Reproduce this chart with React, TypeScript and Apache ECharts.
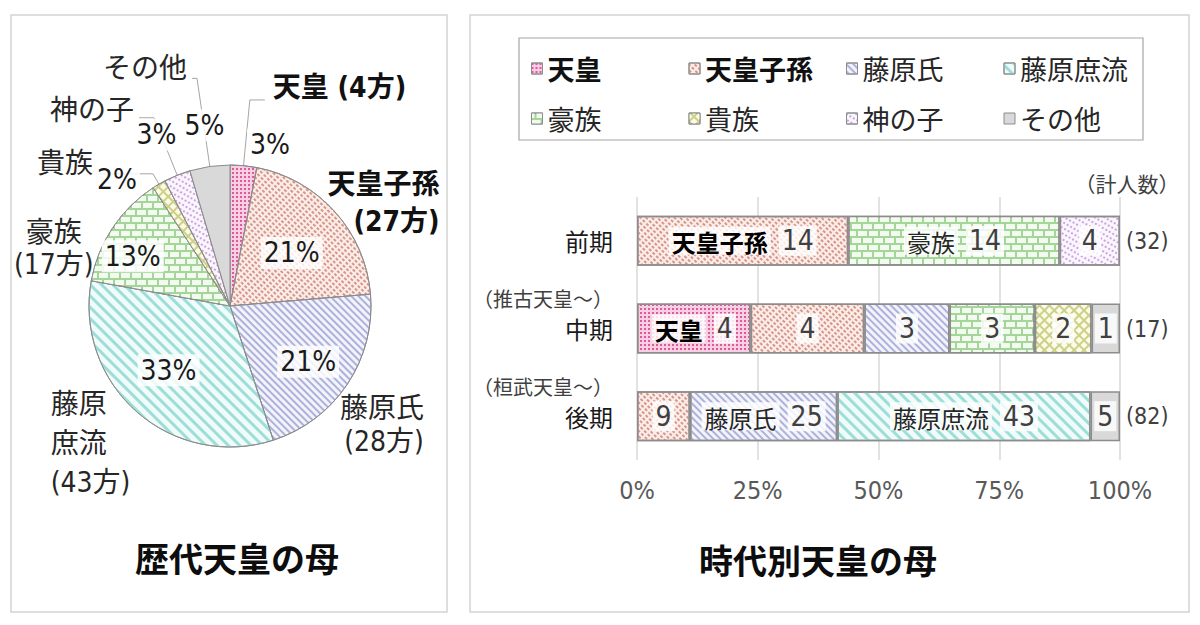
import { useEffect, useRef } from "react";
import * as echarts from "echarts";

// 時代区分
const periods = ["前期", "中期", "後期"];
const periodNotes = ["", "（推古天皇～）", "（桓武天皇～）"];

// 母の出自
const mothers = ["天皇", "天皇子孫", "藤原氏", "藤原庶流", "豪族", "貴族", "神の子", "その他"];

// 人数: [前期, 中期, 後期]
const tenno = [0, 4, 0];
const tennoShison = [14, 4, 9];
const fujiwara = [0, 3, 25];
const fujiwaraShoryu = [0, 0, 43];
const gozoku = [14, 3, 0];
const kizoku = [0, 2, 0];
const kaminoko = [4, 0, 0];
const sonota = [0, 1, 5];

const counts = [tenno, tennoShison, fujiwara, fujiwaraShoryu, gozoku, kizoku, kaminoko, sonota];

const xTicks = [0, 25, 50, 75, 100];

// bar segments that also show the category name
const namedSegments = ["前期:天皇子孫", "前期:豪族", "中期:天皇", "後期:藤原氏", "後期:藤原庶流"];
const boldNames = ["天皇", "天皇子孫"];

const JP = "'Noto Sans CJK JP', sans-serif";
const NUM = "'Liberation Sans Narrow', 'DejaVu Sans Condensed', 'Roboto Condensed', 'Noto Sans CJK JP', sans-serif";
const BORDER = "#8c8c8c";

const fills: Array<{ color: string; decal?: any }> = [
  { color: "#f7cfe2", decal: { color: "#de5a9f", dashArrayX: [2, 1.5], dashArrayY: [2, 1.5] } },
  { color: "#fbeee9", decal: { color: "#d8958a", dashArrayX: [3, 2], dashArrayY: [1.5, 1.5], rotation: Math.PI / 4 } },
  { color: "#f3f3fa", decal: { color: "#adb1dc", dashArrayX: [1, 0], dashArrayY: [1.5, 2.5], rotation: Math.PI / 4 } },
  { color: "#f1fbfa", decal: { color: "#9cded8", dashArrayX: [1, 0], dashArrayY: [3, 5], rotation: Math.PI / 4 } },
  { color: "#a3d698", decal: { color: "#f3faf0", dashArrayX: [[9, 2], [3, 2, 6, 0]], dashArrayY: [5, 1.5] } },
  { color: "#cdd088", decal: { color: "#fbfbe6", dashArrayX: [5, 1.2], dashArrayY: [5, 1.2], rotation: Math.PI / 4 } },
  { color: "#fbf5fd", decal: { color: "#c9a5e0", dashArrayX: [2, 2], dashArrayY: [1.2, 2.5], rotation: Math.PI / 6 } },
  { color: "#d9d9d9" },
];

// pie percentage label nudges (from the "inside" spot)
const pctShift = [
  [33, -88], [7, -4], [17, 15], [-13, 9], [-36, -9], [-76, -63], [-46, -103], [-15, -108],
];

// pie name label placement
const namePlace = [
  { len: 66, len2: 15, dist: 8, pad: [0, 0, 24, 0], line: true },
  { len: 13, len2: 0, dist: -17, pad: 0, line: false },
  { len: 74, len2: 0, dist: -69, pad: 0, line: false },
  { len: 42, len2: 0, dist: -21, pad: 0, line: false },
  { len: 0, len2: 0, dist: 19, pad: [42, 0, 0, 0], line: false },
  { len: 12, len2: 55, dist: 5, pad: [0, 0, 20, 0], line: true },
  { len: 62, len2: 15, dist: 5, pad: [0, 0, 14, 0], line: true },
  { len: 89, len2: 5, dist: 5, pad: [0, 0, 20, 0], line: true },
];

function buildOption() {
  const periodTotals = periods.map((_, p) => counts.reduce((s, arr) => s + arr[p], 0));
  const motherTotals = counts.map((arr) => arr.reduce((s, v) => s + v, 0));
  const grandTotal = motherTotals.reduce((s, v) => s + v, 0);

  const barLabel = (m: number, p: number) => {
    const c = counts[m][p];
    if (!c) return "";
    const name = mothers[m];
    if (namedSegments.includes(`${periods[p]}:${name}`)) {
      const key = boldNames.includes(name) ? "nb" : "n";
      return `{${key}|${name}}{g| }{v|${c}}`;
    }
    return `{v|${c}}`;
  };

  const nameLabel = (m: number) => {
    const name = mothers[m];
    const c = motherTotals[m];
    switch (m) {
      case 0:
        return `{b|${name} (${c}方)}`;
      case 1:
        return `{br|${name}}\n{br|(${c}方)}`;
      case 2:
        return `{rr|${name}}\n{rr|(${c}方)}`;
      case 3:
        return `{l|${name.slice(0, 2)}}\n{l|${name.slice(2)}}\n{l|(${c}方)}`;
      case 4:
        return `{c|${name}}\n{c|(${c}方)}`;
      default:
        return `{n|${name}}`;
    }
  };

  const whiteBox = "rgba(255,255,255,0.82)";

  const barSeries = mothers.map((name, m) => ({
    name,
    type: "bar",
    stack: "all",
    barWidth: 50,
    yAxisIndex: 0,
    data: counts[m].map((c, p) => (c ? (c / periodTotals[p]) * 100 : null)),
    itemStyle: {
      color: fills[m].color,
      decal: fills[m].decal,
      borderColor: BORDER,
      borderWidth: 1.5,
    },
    label: {
      show: true,
      position: "inside",
      formatter: (params: any) => barLabel(m, params.dataIndex),
      rich: {
        n: { fontFamily: JP, fontSize: 24, color: "#262626", backgroundColor: whiteBox, padding: [3, 3, 1, 3] },
        nb: { fontFamily: JP, fontSize: 24, fontWeight: "bold", color: "#000", backgroundColor: whiteBox, padding: [3, 3, 1, 3] },
        g: { fontSize: 10, width: 8 },
        v: { fontFamily: NUM, fontSize: 28, color: "#404040", backgroundColor: whiteBox, padding: [1, 3] },
      },
    },
    emphasis: { disabled: true },
  }));

  const pieCenter = [230, 306];

  const pieMain = {
    type: "pie",
    name: "歴代天皇の母",
    center: pieCenter,
    radius: 141,
    startAngle: 90,
    clockwise: true,
    avoidLabelOverlap: false,
    emphasis: { disabled: true },
    itemStyle: { borderColor: BORDER, borderWidth: 1 },
    data: mothers.map((name, m) => ({
      name,
      value: motherTotals[m],
      itemStyle: { color: fills[m].color, decal: fills[m].decal },
    })),
    label: {
      show: true,
      position: "inside",
      formatter: (p: any) => `${Math.round((p.value / grandTotal) * 100)}%`,
      fontFamily: NUM,
      fontSize: 28,
      color: "#1a1a1a",
      backgroundColor: whiteBox,
      padding: [2, 3],
    },
    labelLine: { show: false },
    labelLayout: (params: any) => {
      const s = pctShift[params.dataIndex];
      return { dx: s[0], dy: s[1] };
    },
  };

  const pieNames = {
    type: "pie",
    name: "names",
    center: pieCenter,
    radius: 141,
    startAngle: 90,
    clockwise: true,
    silent: true,
    avoidLabelOverlap: false,
    emphasis: { disabled: true },
    itemStyle: { color: "rgba(0,0,0,0)", borderWidth: 0 },
    data: mothers.map((name, m) => ({
      name,
      value: motherTotals[m],
      label: {
        formatter: nameLabel(m),
        distanceToLabelLine: namePlace[m].dist,
        padding: namePlace[m].pad,
      },
      labelLine: {
        show: namePlace[m].line,
        length: namePlace[m].len,
        length2: namePlace[m].len2,
      },
    })),
    label: {
      show: true,
      position: "outside",
      fontFamily: NUM,
      fontSize: 28,
      color: "#262626",
      rich: {
        b: { fontFamily: NUM, fontSize: 28, fontWeight: "bold", color: "#111" },
        br: { fontFamily: NUM, fontSize: 28, fontWeight: "bold", color: "#111", align: "right", lineHeight: 37 },
        rr: { fontFamily: NUM, fontSize: 28, color: "#262626", align: "right", lineHeight: 33 },
        l: { fontFamily: NUM, fontSize: 28, color: "#262626", align: "left", lineHeight: 39 },
        c: { fontFamily: NUM, fontSize: 28, color: "#262626", align: "center", lineHeight: 32 },
        n: { fontFamily: NUM, fontSize: 28, color: "#262626" },
      },
    },
    labelLine: { lineStyle: { color: "#a6a6a6", width: 1 } },
  };

  return {
    animation: false,
    backgroundColor: "#ffffff",
    textStyle: { fontFamily: JP },
    title: [
      {
        text: "歴代天皇の母",
        left: 237,
        top: 540,
        padding: 0,
        textAlign: "center",
        textStyle: { fontFamily: JP, fontSize: 34, fontWeight: "bold", color: "#0d0d0d" },
      },
      {
        text: "時代別天皇の母",
        left: 818,
        top: 542,
        padding: 0,
        textAlign: "center",
        textStyle: { fontFamily: JP, fontSize: 34, fontWeight: "bold", color: "#0d0d0d" },
      },
    ],
    graphic: [
      { type: "rect", z: -10, shape: { x: 11, y: 15, width: 436, height: 597 }, style: { fill: "none", stroke: "#d4d4d4", lineWidth: 1.5 } },
      { type: "rect", z: -10, shape: { x: 470, y: 15, width: 719, height: 597 }, style: { fill: "none", stroke: "#d4d4d4", lineWidth: 1.5 } },
      { type: "rect", z: -10, shape: { x: 519, y: 38, width: 624, height: 102 }, style: { fill: "none", stroke: "#a6a6a6", lineWidth: 1.2 } },
    ],
    legend: {
      data: mothers,
      left: 531,
      top: 46,
      width: 640,
      padding: 0,
      itemGap: 5,
      itemWidth: 11,
      itemHeight: 11,
      icon: "rect",
      selectedMode: false,
      itemStyle: { borderColor: BORDER, borderWidth: 1 },
      formatter: (n: string) => (boldNames.includes(n) ? `{b|${n}}` : `{r|${n}}`),
      textStyle: {
        width: 136,
        lineHeight: 45,
        fontSize: 27,
        fontFamily: JP,
        color: "#262626",
        rich: {
          b: { fontFamily: JP, fontSize: 27, fontWeight: "bold", color: "#111" },
          r: { fontFamily: JP, fontSize: 27, color: "#262626" },
        },
      },
    },
    grid: { left: 637, right: 80, top: 197, bottom: 165 },
    xAxis: {
      type: "value",
      min: xTicks[0],
      max: xTicks[xTicks.length - 1],
      interval: xTicks[1] - xTicks[0],
      axisLine: { show: false },
      axisTick: { show: false },
      splitLine: { lineStyle: { color: "#d9d9d9", width: 1.5 } },
      axisLabel: { formatter: "{value}%", fontFamily: NUM, fontSize: 25, color: "#595959", margin: 18 },
    },
    yAxis: [
      {
        type: "category",
        data: periods,
        inverse: true,
        axisLine: { show: false },
        axisTick: { show: false },
        axisLabel: {
          margin: 24,
          formatter: (v: string, i: number) =>
            periodNotes[i] ? `{p|${periodNotes[i]}}\n{m|${v}}\n{p| }` : `{m|${v}}`,
          rich: {
            p: { fontFamily: JP, fontSize: 20, color: "#404040", lineHeight: 30, align: "right" },
            m: { fontFamily: JP, fontSize: 24, color: "#1a1a1a", lineHeight: 30, align: "right" },
          },
        },
      },
      {
        type: "category",
        data: periods,
        inverse: true,
        position: "right",
        axisLine: { show: false },
        axisTick: { show: false },
        name: "（計人数）",
        nameLocation: "start",
        nameGap: 4,
        nameTextStyle: { fontFamily: JP, fontSize: 21, color: "#404040", padding: [0, 0, 0, 14] },
        axisLabel: {
          margin: 6,
          formatter: (_v: string, i: number) => `(${periodTotals[i]})`,
          fontFamily: NUM,
          fontSize: 23,
          color: "#404040",
        },
      },
    ],
    series: [...barSeries, pieMain, pieNames],
  };
}

export default function App() {
  const chartRef = useRef<HTMLDivElement>(null);

  useEffect(() => {
    if (!chartRef.current) return;
    const chart = echarts.init(chartRef.current, null, { renderer: "svg" });
    chart.setOption(buildOption() as any);
    return () => {
      chart.dispose();
    };
  }, []);

  return (
    <div
      ref={chartRef}
      style={{ position: "absolute", left: 0, top: 0, width: 1200, height: 625, background: "#fff" }}
    />
  );
}
